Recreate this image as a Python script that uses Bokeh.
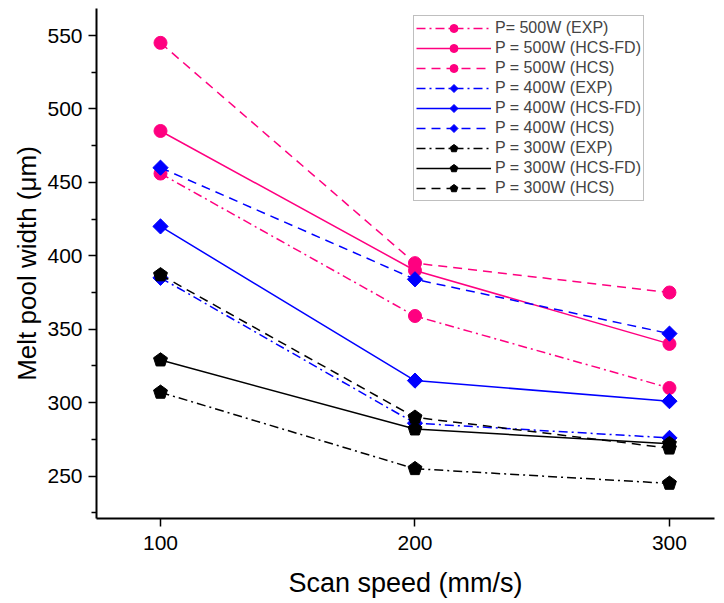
import numpy as np
from bokeh.plotting import figure
from bokeh.models import Range1d, Legend, LegendItem, FixedTicker
from bokeh.embed import file_html
from bokeh.resources import INLINE

# ---- data ----
speed = [100, 200, 300]
p500_exp = [456, 359, 310]
p500_hcsfd = [485, 390, 340]
p500_hcs = [545, 395, 375]
p400_exp = [385, 286, 276]
p400_hcsfd = [420, 315, 301]
p400_hcs = [460, 384, 347]
p300_exp = [307, 255, 245]
p300_hcsfd = [329, 282, 272]
p300_hcs = [387, 290, 269]
x_ticks = [100, 200, 300]
y_ticks = [250, 300, 350, 400, 450, 500, 550]
y_minor = [225, 275, 325, 375, 425, 475, 525]
labels = ["P= 500W (EXP)", "P = 500W (HCS-FD)", "P = 500W (HCS)",
          "P = 400W (EXP)", "P = 400W (HCS-FD)", "P = 400W (HCS)",
          "P = 300W (EXP)", "P = 300W (HCS-FD)", "P = 300W (HCS)"]

PINK = "#FF0080"
BLUE = "#0000FF"
BLACK = "#000000"
FONT = "Liberation Sans"

DASHDOT = "9 4 2 4"
DASHED = "9 6"

series = [
    (labels[0], p500_exp, PINK, DASHDOT, "circle"),
    (labels[1], p500_hcsfd, PINK, "solid", "circle"),
    (labels[2], p500_hcs, PINK, DASHED, "circle"),
    (labels[3], p400_exp, BLUE, DASHDOT, "diamond"),
    (labels[4], p400_hcsfd, BLUE, "solid", "diamond"),
    (labels[5], p400_hcs, BLUE, DASHED, "diamond"),
    (labels[6], p300_exp, BLACK, DASHDOT, "pentagon"),
    (labels[7], p300_hcsfd, BLACK, "solid", "pentagon"),
    (labels[8], p300_hcs, BLACK, DASHED, "pentagon"),
]

p = figure(width=716, height=602, output_backend="svg", toolbar_location=None,
           x_range=Range1d(74.85, 317.7), y_range=Range1d(221.1, 568.4),
           min_border_left=96, min_border_right=2, min_border_top=8,
           min_border_bottom=84)
p.outline_line_color = None
p.grid.visible = False
p.background_fill_color = "white"
p.border_fill_color = "white"

items = []
for lab, ys, col, dash, mk in series:
    lr = p.line(speed, ys, line_color=col, line_width=1.5, line_dash=dash)
    if mk == "circle":
        mr = p.scatter(speed, ys, marker="circle", size=13, fill_color=col, line_color=col)
    elif mk == "diamond":
        mr = p.ngon(speed, ys, radius=7.6, radius_units="screen", n=4,
                    angle=0, fill_color=col, line_color=col)
    else:
        mr = p.ngon(speed, ys, radius=7.3, radius_units="screen", n=5,
                    angle=0, fill_color=col, line_color=col)
    items.append(LegendItem(label=lab, renderers=[lr, mr]))

legend = Legend(items=items, location=(317, 317), margin=0, padding=2, spacing=0,
                glyph_width=75, glyph_height=20, label_height=20, label_standoff=4,
                label_text_font=FONT, label_text_font_size="16px",
                border_line_color="#808080", border_line_width=1.5,
                background_fill_color="white", background_fill_alpha=1.0)
p.add_layout(legend)

# axes
for ax in (p.xaxis[0], p.yaxis[0]):
    ax.axis_line_width = 2
    ax.axis_line_color = "black"
    ax.major_tick_line_width = 1.5
    ax.minor_tick_line_width = 1.5
    ax.major_tick_out = 8
    ax.major_tick_in = 0
    ax.minor_tick_out = 5
    ax.minor_tick_in = 0
    ax.major_label_text_font = FONT
    ax.major_label_text_font_size = "21px"
    ax.major_label_text_color = "black"
    ax.axis_label_text_font = FONT
    ax.axis_label_text_font_style = "normal"
    ax.axis_label_text_color = "black"

p.xaxis.axis_label_text_font_size = "27px"
p.yaxis.axis_label_text_font_size = "26px"
p.xaxis.ticker = FixedTicker(ticks=x_ticks, minor_ticks=[])
p.yaxis.ticker = FixedTicker(ticks=y_ticks, minor_ticks=y_minor)
p.xaxis.axis_label = "Scan speed (mm/s)"
p.yaxis.axis_label = "Melt pool width (μm)"
p.xaxis.major_label_standoff = 9
p.xaxis.axis_label_standoff = 15
p.yaxis.major_label_standoff = 6
p.yaxis.axis_label_standoff = 2

open("out.html", "w").write(file_html(p, INLINE))
